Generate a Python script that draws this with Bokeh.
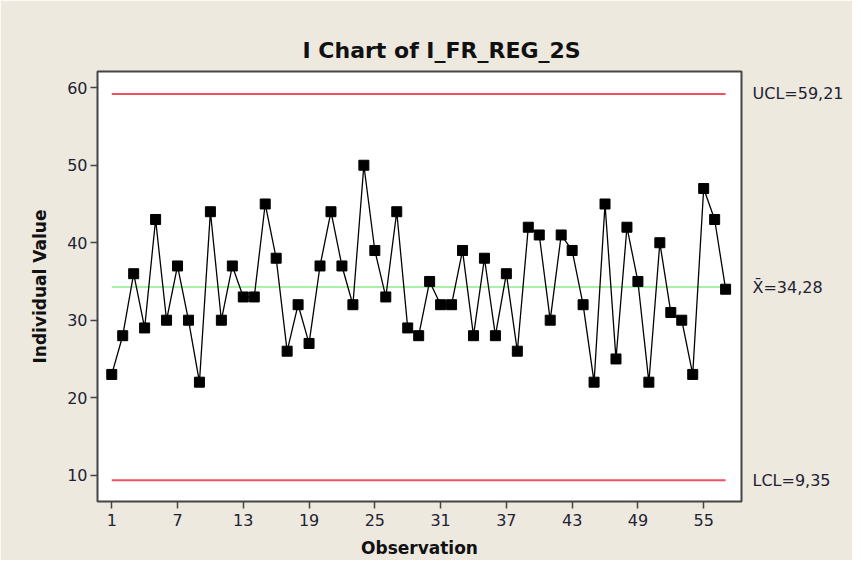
from bokeh.plotting import figure
from bokeh.models import Range1d, FixedTicker, LinearAxis, ColumnDataSource
from bokeh.embed import file_html
from bokeh.resources import INLINE

# ---- data -------------------------------------------------------------
observation = list(range(1, 58))
individual_value = [23, 28, 36, 29, 43, 30, 37, 30, 22, 44,
                    30, 37, 33, 33, 45, 38, 26, 32, 27, 37,
                    44, 37, 32, 50, 39, 33, 44, 29, 28, 35,
                    32, 32, 39, 28, 38, 28, 36, 26, 42, 41,
                    30, 41, 39, 32, 22, 45, 25, 42, 35, 22,
                    40, 31, 30, 23, 47, 43, 34]
ucl = 59.21
center = 34.28
lcl = 9.35
limit_labels = {ucl: "UCL=59,21", center: "X\u0304=34,28", lcl: "LCL=9,35"}
x_ticks = [1, 7, 13, 19, 25, 31, 37, 43, 49, 55]
y_ticks = [10, 20, 30, 40, 50, 60]
title_text = "I Chart of I_FR_REG_2S"
x_label = "Observation"
y_label = "Individual Value"

BG = "#EDE9DF"
FONT = "DejaVu Sans"

p = figure(width=852, height=560, output_backend="svg", toolbar_location=None,
           x_range=Range1d(-0.3, 58.45), y_range=Range1d(6.6, 62.1),
           min_border_left=97, min_border_right=111, min_border_top=71,
           min_border_bottom=56, title=title_text)

p.background_fill_color = "white"
p.border_fill_color = BG
p.outline_line_color = "#454545"
p.outline_line_width = 2
p.xgrid.visible = False
p.ygrid.visible = False

p.title.text_font = FONT
p.title.text_font_size = "22px"
p.title.text_font_style = "bold"
p.title.text_color = "#111111"
p.title.align = "left"
p.title.offset = 205
p.title.standoff = 14
p.title.vertical_align = "top"

# control limit lines spanning first..last observation
x0, x1 = observation[0], observation[-1]
p.segment(x0=[x0, x0], y0=[ucl, lcl], x1=[x1, x1], y1=[ucl, lcl],
          line_color="#F0505F", line_width=2)
p.segment(x0=[x0], y0=[center], x1=[x1], y1=[center],
          line_color="#8CEB8C", line_width=1.5)

src = ColumnDataSource(dict(x=observation, y=individual_value))
p.line("x", "y", source=src, line_color="black", line_width=1.3)
p.scatter("x", "y", source=src, marker="square", size=10,
          fill_color="black", line_color="black")

# axes
for ax in (p.xaxis[0], p.yaxis[0]):
    ax.axis_line_color = None
    ax.major_tick_line_color = "#444444"
    ax.major_tick_line_width = 1.5
    ax.minor_tick_line_color = None
    ax.major_tick_out = 7
    ax.major_tick_in = 0
    ax.major_label_standoff = 3
    ax.major_label_text_font = FONT
    ax.major_label_text_font_size = "16px"
    ax.major_label_text_color = "#222233"
    ax.axis_label_text_font = FONT
    ax.axis_label_text_font_size = "17px"
    ax.axis_label_text_font_style = "bold"
    ax.axis_label_text_color = "#111111"

p.xaxis[0].ticker = FixedTicker(ticks=x_ticks)
p.yaxis[0].ticker = FixedTicker(ticks=y_ticks)
p.xaxis[0].axis_label = x_label
p.yaxis[0].axis_label = y_label
p.xaxis[0].major_label_standoff = 5
p.xaxis[0].axis_label_standoff = 9
p.yaxis[0].axis_label_standoff = 14

right = LinearAxis(ticker=FixedTicker(ticks=list(limit_labels.keys())),
                   major_label_overrides=limit_labels)
right.axis_line_color = None
right.major_tick_line_color = None
right.minor_tick_line_color = None
right.major_tick_out = 0
right.major_tick_in = 0
right.major_label_standoff = 11
right.major_label_text_font = FONT
right.major_label_text_font_size = "16px"
right.major_label_text_color = "#222233"
p.add_layout(right, "right")

open("out.html", "w").write(file_html(p, INLINE))
